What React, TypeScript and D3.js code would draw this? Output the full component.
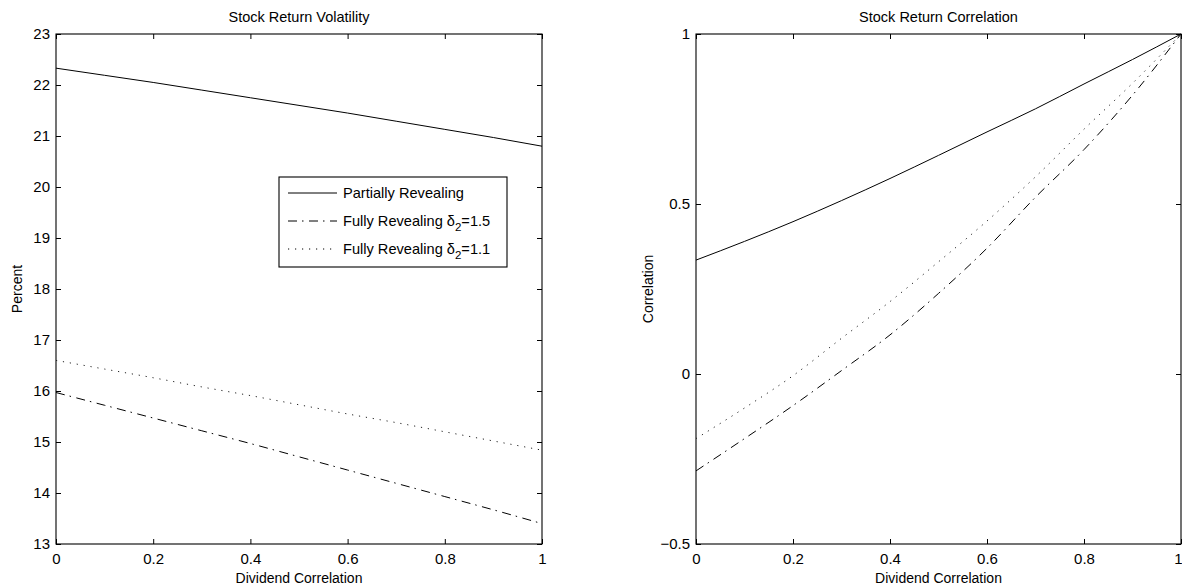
import { useEffect, useRef } from "react";
import * as d3 from "d3";

// dividend correlation grid (x for every curve)
const rho = [0, 0.1, 0.2, 0.3, 0.4, 0.5, 0.6, 0.7, 0.8, 0.9, 1];

// left panel: stock return volatility, percent
const volPartial = [22.33, 22.19, 22.05, 21.9, 21.75, 21.6, 21.45, 21.29, 21.13, 20.97, 20.8];
const volFull15 = [15.97, 15.72, 15.47, 15.22, 14.97, 14.71, 14.45, 14.19, 13.93, 13.67, 13.4];
const volFull11 = [16.6, 16.43, 16.26, 16.08, 15.91, 15.73, 15.55, 15.38, 15.2, 15.02, 14.84];

// right panel: stock return correlation
const corrPartial = [0.335, 0.39, 0.448, 0.51, 0.575, 0.643, 0.712, 0.78, 0.853, 0.925, 1];
const corrFull15 = [-0.285, -0.19, -0.093, 0.01, 0.115, 0.237, 0.37, 0.52, 0.66, 0.82, 1];
const corrFull11 = [-0.19, -0.1, -0.005, 0.105, 0.213, 0.33, 0.45, 0.58, 0.72, 0.855, 1];

const xTicks = [0, 0.2, 0.4, 0.6, 0.8, 1];
const volTicks = [13, 14, 15, 16, 17, 18, 19, 20, 21, 22, 23];
const corrTicks = [-0.5, 0, 0.5, 1];

const legendLabels = ["Partially Revealing", "Fully Revealing δ|2|=1.5", "Fully Revealing δ|2|=1.1"];

const FONT = "'Liberation Sans', Arial, Helvetica, sans-serif";
const dashes = [null, "9,5,1.5,5.5", "1.2,5.8"];

type Panel = {
  left: number;
  right: number;
  top: number;
  bottom: number;
  yDomain: [number, number];
  yTicks: number[];
  title: string;
  ylabel: string;
  ylabelX: number;
  series: number[][];
  legend?: boolean;
  clipLast?: boolean;
};

function drawPanel(svg: d3.Selection<SVGSVGElement, unknown, null, undefined>, p: Panel) {
  const x = d3.scaleLinear().domain([0, 1]).range([p.left, p.right]);
  const y = d3.scaleLinear().domain(p.yDomain).range([p.bottom, p.top]);
  const fmt = d3.format("~g");
  const g = svg.append("g");

  const style = (sel: d3.Selection<SVGGElement, unknown, null, undefined>) => {
    sel.select(".domain").remove();
    sel.selectAll("line").attr("stroke", "#000");
    sel.selectAll("text").attr("font-size", 15).attr("font-family", FONT).attr("fill", "#000");
  };

  const bottomAxis = g
    .append("g")
    .attr("transform", `translate(0,${p.bottom})`)
    .call(d3.axisBottom(x).tickValues(xTicks).tickFormat((d) => fmt(d as number)).tickSize(-5).tickPadding(9))
    .call(style);
  if (p.clipLast) {
    // keep the "1" label inside the page edge
    bottomAxis.selectAll<SVGTextElement, number>("text").filter((d) => d === 1).attr("dx", -3);
  }
  g.append("g")
    .attr("transform", `translate(0,${p.top})`)
    .call(d3.axisTop(x).tickValues(xTicks).tickFormat(() => "").tickSize(-5))
    .call(style);
  g.append("g")
    .attr("transform", `translate(${p.left},0)`)
    .call(d3.axisLeft(y).tickValues(p.yTicks).tickFormat((d) => fmt(d as number)).tickSize(-5).tickPadding(6))
    .call(style);
  g.append("g")
    .attr("transform", `translate(${p.right},0)`)
    .call(d3.axisRight(y).tickValues(p.yTicks).tickFormat(() => "").tickSize(-5))
    .call(style);

  g.append("rect")
    .attr("x", p.left)
    .attr("y", p.top)
    .attr("width", p.right - p.left)
    .attr("height", p.bottom - p.top)
    .attr("fill", "none")
    .attr("stroke", "#000")
    .attr("stroke-width", 1.1);

  const line = d3
    .line<number>()
    .x((_, i) => x(rho[i]))
    .y((d) => y(d))
    .curve(d3.curveMonotoneX);

  p.series.forEach((s, i) => {
    g.append("path")
      .attr("d", line(s))
      .attr("fill", "none")
      .attr("stroke", i === 2 ? "#222" : "#000")
      .attr("stroke-width", 1)
      .attr("stroke-dasharray", dashes[i]);
  });

  g.append("text")
    .attr("x", (p.left + p.right) / 2)
    .attr("y", 22)
    .attr("text-anchor", "middle")
    .attr("font-size", 14.5)
    .attr("font-family", FONT)
    .text(p.title);

  g.append("text")
    .attr("x", (p.left + p.right) / 2)
    .attr("y", 583)
    .attr("text-anchor", "middle")
    .attr("font-size", 14)
    .attr("font-family", FONT)
    .text("Dividend Correlation");

  g.append("text")
    .attr("transform", `translate(${p.ylabelX},${(p.top + p.bottom) / 2}) rotate(-90)`)
    .attr("dy", "0.35em")
    .attr("text-anchor", "middle")
    .attr("font-size", 14)
    .attr("font-family", FONT)
    .text(p.ylabel);

  if (p.legend) {
    const lx = 279;
    const ly = 177;
    const lg = g.append("g");
    lg.append("rect")
      .attr("x", lx)
      .attr("y", ly)
      .attr("width", 228)
      .attr("height", 90)
      .attr("fill", "#fff")
      .attr("stroke", "#000")
      .attr("stroke-width", 1.1);
    legendLabels.forEach((lab, i) => {
      const cy = ly + 16 + i * 28;
      lg.append("line")
        .attr("x1", lx + 9)
        .attr("x2", lx + 58)
        .attr("y1", cy)
        .attr("y2", cy)
        .attr("stroke", "#000")
        .attr("stroke-dasharray", dashes[i]);
      const t = lg
        .append("text")
        .attr("x", lx + 64)
        .attr("y", cy + 5)
        .attr("font-size", 14.6)
        .attr("font-family", FONT);
      const parts = lab.split("|");
      t.append("tspan").text(parts[0]);
      if (parts.length > 1) {
        t.append("tspan").attr("dy", 5).attr("font-size", 11.5).text(parts[1]);
        t.append("tspan").attr("dy", -5).text(parts[2]);
      }
    });
  }
}

export default function App() {
  const ref = useRef<SVGSVGElement>(null);

  useEffect(() => {
    const el = ref.current;
    if (!el) return;
    const svg = d3.select(el);
    svg.selectAll("*").remove();

    drawPanel(svg, {
      left: 56,
      right: 542,
      top: 34,
      bottom: 544,
      yDomain: [13, 23],
      yTicks: volTicks,
      title: "Stock Return Volatility",
      ylabel: "Percent",
      ylabelX: 17,
      series: [volPartial, volFull15, volFull11],
      legend: true,
    });

    drawPanel(svg, {
      left: 696,
      right: 1181,
      top: 34,
      bottom: 544,
      yDomain: [-0.5, 1],
      yTicks: corrTicks,
      title: "Stock Return Correlation",
      ylabel: "Correlation",
      ylabelX: 648,
      series: [corrPartial, corrFull15, corrFull11],
      clipLast: true,
    });
  }, []);

  return (
    <svg
      ref={ref}
      width={1182}
      height={587}
      style={{ position: "absolute", left: 0, top: 0, background: "#fff" }}
    />
  );
}
